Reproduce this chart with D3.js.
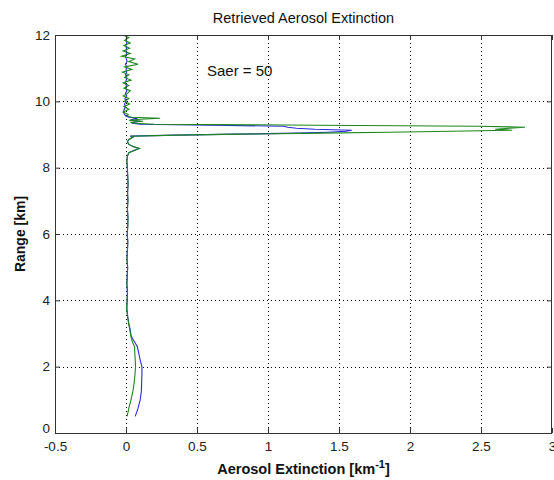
<!DOCTYPE html>
<html>
<head>
<meta charset="utf-8">
<script src="https://cdn.jsdelivr.net/npm/d3@7"></script>
<style>
  html, body { margin: 0; padding: 0; background: #fff; }
  svg { display: block; font-family: "Liberation Sans", Arial, Helvetica, sans-serif; }
</style>
</head>
<body>
<svg id="chart" width="554" height="480"></svg>
<script>
// ---- data ----
const rangeKm = [
  0.5, 0.75, 1.0, 1.25, 1.5, 1.75, 2.0, 2.2, 2.4, 2.6, 2.75, 2.85, 2.95, 3.1, 3.3, 3.5,
  3.75, 4.0, 4.25, 4.5, 4.75, 5.0, 5.25, 5.5, 5.75, 6.0, 6.25, 6.5, 6.75, 7.0, 7.25, 7.5,
  7.75, 8.0, 8.2, 8.35, 8.45, 8.52, 8.58, 8.64, 8.7, 8.78, 8.85, 8.92,
  8.95, 8.98, 9.01, 9.04, 9.07, 9.10, 9.13, 9.16, 9.19, 9.22, 9.25, 9.28, 9.31, 9.34,
  9.37, 9.40, 9.43, 9.46, 9.49, 9.52, 9.56,
  9.6, 9.68, 9.76, 9.84, 9.92, 10.0, 10.08, 10.16, 10.24, 10.32, 10.4, 10.48, 10.56, 10.64,
  10.72, 10.8, 10.88, 10.96, 11.04, 11.12, 11.2, 11.28, 11.36, 11.44, 11.52, 11.6, 11.68,
  11.76, 11.84, 11.92, 12.0
];
const extBlue = [
  0.065, 0.085, 0.1, 0.108, 0.11, 0.112, 0.112, 0.1, 0.09, 0.08, 0.06, 0.045, 0.035, 0.03, 0.02, 0.012,
  0.006, 0.008, 0.01, 0.006, 0.009, 0.011, 0.007, 0.01, 0.013, 0.009, 0.012, 0.014, 0.01, 0.013, 0.011, 0.015,
  0.012, 0.009, 0.006, 0.01, 0.02, 0.055, 0.09, 0.05, 0.02, 0.01, 0.02, 0.05,
  0.03, 0.35, 0.78, 1.2, 1.42, 1.55, 1.59, 1.33, 1.2, 1.14, 1.11, 0.6, 0.1, 0.04,
  0.06, 0.1, 0.03, 0.05, 0.08, 0.02, 0.0,
  -0.01, -0.018, -0.012, -0.005, -0.01, 0.0, -0.008, 0.004, -0.004, 0.006, -0.002, 0.003, -0.006, 0.002,
  0.005, -0.003, 0.004, 0.0, 0.006, -0.004, 0.008, 0.002, -0.003, 0.005, 0.0, 0.004, -0.002,
  0.006, 0.001, 0.004, 0.002
];
const extGreen = [
  0.008, 0.02, 0.035, 0.048, 0.057, 0.063, 0.067, 0.065, 0.062, 0.06, 0.045, 0.038, 0.032, 0.028, 0.018, 0.012,
  0.005, 0.008, 0.011, 0.006, 0.009, 0.012, 0.007, 0.01, 0.012, 0.009, 0.013, 0.013, 0.01, 0.014, 0.011, 0.014,
  0.012, 0.01, 0.006, 0.01, 0.02, 0.06, 0.095, 0.05, 0.02, 0.01, 0.02, 0.05,
  0.04, 0.36, 0.79, 1.37, 1.85, 2.29, 2.72, 2.6, 2.7, 2.81, 2.48, 1.35, 0.2, 0.06,
  0.03, 0.12, 0.02, 0.1, 0.24, 0.04, 0.01,
  0.015, -0.02, 0.02, -0.015, 0.025, -0.01, 0.02, -0.02, 0.01, 0.03, -0.015, 0.02, -0.02, 0.035,
  -0.01, 0.02, -0.025, 0.04, -0.01, 0.085, 0.02, 0.06, -0.03, 0.03, -0.02, 0.025, -0.015,
  0.03, -0.01, 0.02, -0.02
];
const xTicks = [-0.5, 0, 0.5, 1, 1.5, 2, 2.5, 3];
const yTicks = [0, 2, 4, 6, 8, 10, 12];
const titleText = "Retrieved Aerosol Extinction";
const noteText = "Saer = 50";

// ---- layout ----
const svg = d3.select("#chart");
const L = 55, R = 552, T = 35, B = 433;
const x = d3.scaleLinear().domain([-0.5, 3]).range([L, R]);
const y = d3.scaleLinear().domain([0, 12]).range([B, T]);

svg.append("defs").append("clipPath").attr("id", "clip")
  .append("rect").attr("x", L).attr("y", T).attr("width", R - L).attr("height", B - T);

// grid
const grid = svg.append("g").attr("stroke", "#000").attr("stroke-width", 1)
  .attr("stroke-dasharray", "1,3").attr("shape-rendering", "crispEdges");
xTicks.filter(d => d > -0.5 && d < 3).forEach(d => {
  grid.append("line").attr("x1", Math.round(x(d)) + 0.5).attr("x2", Math.round(x(d)) + 0.5)
    .attr("y1", T).attr("y2", B);
});
yTicks.filter(d => d > 0 && d < 12).forEach(d => {
  grid.append("line").attr("y1", Math.round(y(d)) + 0.5).attr("y2", Math.round(y(d)) + 0.5)
    .attr("x1", L).attr("x2", R);
});

// data lines
const pts = arr => rangeKm.map((r, i) => [arr[i], r]);
const line = d3.line().x(d => x(d[0])).y(d => y(d[1]));
const plot = svg.append("g").attr("clip-path", "url(#clip)");
plot.append("path").datum(pts(extBlue)).attr("d", line)
  .attr("fill", "none").attr("stroke", "#2a2ae0").attr("stroke-width", 1.1);
plot.append("path").datum(pts(extGreen)).attr("d", line)
  .attr("fill", "none").attr("stroke", "#1c861c").attr("stroke-width", 1.1);

// axes
const xAxis = d3.axisBottom(x).tickValues(xTicks).tickSize(-5).tickPadding(8)
  .tickFormat(d => String(d));
const yAxis = d3.axisLeft(y).tickValues(yTicks).tickSize(-5).tickPadding(5)
  .tickFormat(d => String(d));
const gx = svg.append("g").attr("transform", `translate(0,${B})`).call(xAxis);
const gy = svg.append("g").attr("transform", `translate(${L},0)`).call(yAxis);
const gxTop = svg.append("g").attr("transform", `translate(0,${T})`)
  .call(d3.axisTop(x).tickValues(xTicks).tickSize(-5).tickFormat(""));
const gyRight = svg.append("g").attr("transform", `translate(${R},0)`)
  .call(d3.axisRight(y).tickValues(yTicks).tickSize(-5).tickFormat(""));
[gx, gy, gxTop, gyRight].forEach(g => {
  g.select(".domain").remove();
  g.selectAll("line").attr("stroke", "#333");
  g.selectAll("text").attr("fill", "#222").style("font-size", "13.5px")
    .style("font-family", '"Liberation Sans", Arial, sans-serif');
});
// lift the y "0" label a little, as in the reference
gy.selectAll(".tick").filter(d => d === 0).select("text").attr("dy", "-0.05em");

// box
svg.append("rect").attr("x", L + 0.5).attr("y", T + 0.5).attr("width", R - L - 1).attr("height", B - T)
  .attr("fill", "none").attr("stroke", "#333").attr("stroke-width", 1).attr("shape-rendering", "crispEdges");

// title
svg.append("text").attr("x", (L + R) / 2).attr("y", 23).attr("text-anchor", "middle")
  .style("font-size", "14.5px").attr("fill", "#111").text(titleText);

// annotation
svg.append("text").attr("x", x(0.57)).attr("y", y(10.9) + 5)
  .style("font-size", "15px").attr("fill", "#111").text(noteText);

// y label
svg.append("text").attr("transform", `translate(25,${(T + B) / 2}) rotate(-90)`)
  .attr("text-anchor", "middle").style("font-size", "14px").style("font-weight", "bold")
  .attr("fill", "#111").text("Range [km]");

// x label
const xl = svg.append("text").attr("x", (L + R) / 2).attr("y", 474).attr("text-anchor", "middle")
  .style("font-size", "14.5px").style("font-weight", "bold").attr("fill", "#111");
xl.append("tspan").text("Aerosol Extinction [km");
xl.append("tspan").attr("dy", -6).style("font-size", "11px").text("-1");
xl.append("tspan").attr("dy", 6).text("]");
</script>
</body>
</html>
